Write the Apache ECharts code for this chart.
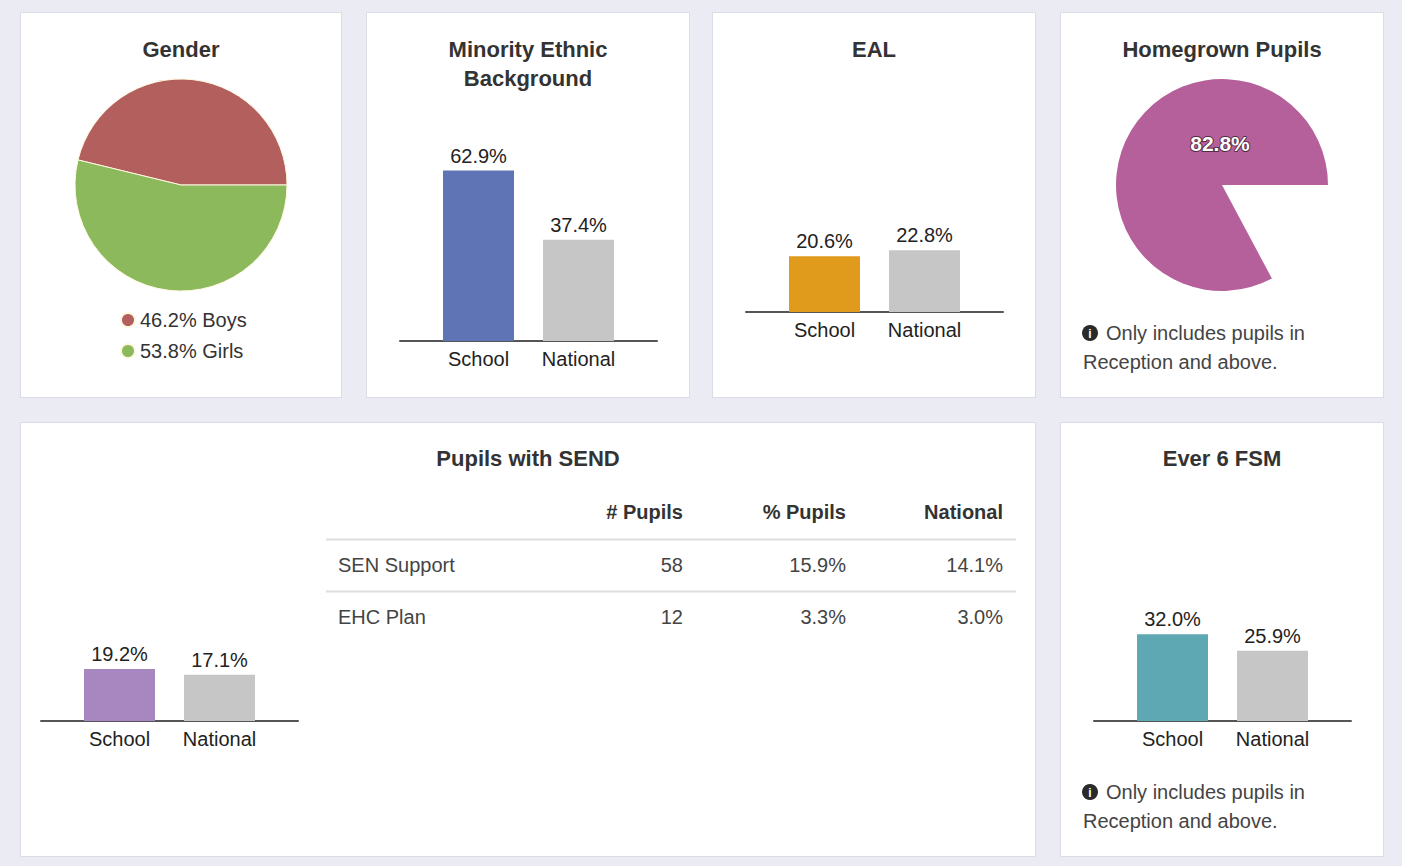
<!DOCTYPE html>
<html>
<head>
<meta charset="utf-8">
<script src="https://cdn.jsdelivr.net/npm/echarts@6/dist/echarts.min.js"></script>
<style>
  html, body { margin: 0; padding: 0; background: #ebebf3; }
  #wrap { position: relative; width: 1402px; height: 866px; }
  .card { position: absolute; background: #fff; border: 1px solid #dcdce6; box-sizing: border-box; }
  #main { position: absolute; left: 0; top: 0; width: 1402px; height: 866px; }
</style>
</head>
<body>
<div id="wrap">
  <div class="card" style="left:20px;top:12px;width:322px;height:386px"></div>
  <div class="card" style="left:366px;top:12px;width:324px;height:386px"></div>
  <div class="card" style="left:712px;top:12px;width:324px;height:386px"></div>
  <div class="card" style="left:1060px;top:12px;width:324px;height:386px"></div>
  <div class="card" style="left:20px;top:422px;width:1016px;height:435px"></div>
  <div class="card" style="left:1060px;top:422px;width:324px;height:435px"></div>
  <div id="main"></div>
</div>
<script>
const barCategories = ['School', 'National']
const minorityEthnic = [62.9, 37.4]
const eal = [20.6, 22.8]
const sendPupilsBar = [19.2, 17.1]
const ever6Fsm = [32.0, 25.9]

const genderNames = ['Boys', 'Girls']
const genderValues = [46.2, 53.8]
const homegrownValue = 82.8

const tableColumns = ['# Pupils', '% Pupils', 'National']
const sendRowNames = ['SEN Support', 'EHC Plan']
const sendCounts = [58, 12]
const sendPercent = [15.9, 3.3]
const sendNational = [14.1, 3.0]

const FONT = 'Liberation Sans'
const GREY = '#c6c6c6'

const chart = echarts.init(document.getElementById('main'), null, { renderer: 'svg' })

// bar panels: inner grid left edge and baseline y
const barPanels = [
  { data: minorityEthnic, color: '#5f74b4', left: 428.5, base: 341 },
  { data: eal, color: '#e09a1c', left: 774.5, base: 312 },
  { data: sendPupilsBar, color: '#a886c0', left: 69.5, base: 721 },
  { data: ever6Fsm, color: '#5ea8b4', left: 1122.5, base: 721 }
]
const PLOT_H = 271

const grid = []
const xAxis = []
const yAxis = []
const series = []

barPanels.forEach((p, i) => {
  const top = p.base - PLOT_H
  // wide grid only for the baseline
  grid.push({ left: p.left - 28.5, width: 257, top: top, height: PLOT_H })
  grid.push({ left: p.left, width: 200, top: top, height: PLOT_H })
  xAxis.push({
    gridIndex: 2 * i, type: 'category', data: ['', ''],
    axisLine: { lineStyle: { color: '#555', width: 2 } },
    axisTick: { show: false }, axisLabel: { show: false }, splitLine: { show: false }
  })
  xAxis.push({
    gridIndex: 2 * i + 1, type: 'category', data: barCategories,
    axisLine: { show: false }, axisTick: { show: false }, splitLine: { show: false },
    axisLabel: { fontSize: 20, color: '#222', margin: 8, fontFamily: FONT }
  })
  yAxis.push({ gridIndex: 2 * i, type: 'value', min: 0, max: 100, show: false })
  yAxis.push({ gridIndex: 2 * i + 1, type: 'value', min: 0, max: 100, show: false })
  series.push({
    type: 'bar',
    xAxisIndex: 2 * i + 1,
    yAxisIndex: 2 * i + 1,
    barWidth: 71,
    silent: true,
    data: p.data.map((v, j) => ({ value: v, itemStyle: { color: j === 0 ? p.color : GREY } })),
    label: {
      show: true, position: 'top', distance: 5,
      fontSize: 20, color: '#222', fontFamily: FONT,
      formatter: d => d.value.toFixed(1) + '%'
    }
  })
})

const genderColors = ['#b25f5e', '#8cb95b']
series.push({
  type: 'pie',
  center: [181, 185],
  radius: 106,
  startAngle: 0,
  clockwise: false,
  silent: true,
  label: { show: false },
  labelLine: { show: false },
  itemStyle: { borderColor: '#fff8e0', borderWidth: 1 },
  data: genderNames.map((n, i) => ({ name: n, value: genderValues[i], itemStyle: { color: genderColors[i] } }))
})

series.push({
  type: 'pie',
  center: [1222, 185],
  radius: 106,
  startAngle: 0,
  clockwise: false,
  silent: true,
  labelLine: { show: false },
  data: [
    {
      name: 'Homegrown', value: homegrownValue,
      itemStyle: { color: '#b6609b' },
      label: {
        show: true, position: 'center', offset: [-2, -42],
        formatter: d => d.value.toFixed(1) + '%',
        color: '#fff', fontSize: 21, fontWeight: 'bold', fontFamily: FONT,
        textBorderColor: 'rgba(40,20,30,0.7)', textBorderWidth: 2
      }
    },
    { name: 'rest', value: 100 - homegrownValue, itemStyle: { color: 'transparent' }, label: { show: false } }
  ]
})

function txt(text, x, y, opts) {
  const o = opts || {}
  return {
    type: 'text', x: x, y: y, silent: true,
    style: {
      text: text,
      fill: o.fill || '#333',
      font: (o.bold ? 'bold ' : '') + (o.size || 20) + 'px ' + FONT,
      align: o.align || 'left', textAlign: o.align || 'left',
      verticalAlign: 'middle', textVerticalAlign: 'middle'
    }
  }
}

const graphics = []
// card titles
const titleStyle = { bold: true, size: 22, align: 'center', fill: '#333' }
graphics.push(txt('Gender', 181, 49, titleStyle))
graphics.push(txt('Minority Ethnic', 528, 49, titleStyle))
graphics.push(txt('Background', 528, 78, titleStyle))
graphics.push(txt('EAL', 874, 49, titleStyle))
graphics.push(txt('Homegrown Pupils', 1222, 49, titleStyle))
graphics.push(txt('Pupils with SEND', 528, 458, titleStyle))
graphics.push(txt('Ever 6 FSM', 1222, 458, titleStyle))

// SEND table
const colRight = [683, 846, 1003]
tableColumns.forEach((c, i) => graphics.push(txt(c, colRight[i], 512, { bold: true, align: 'right', fill: '#333' })))
const rowY = [565, 617]
sendRowNames.forEach((name, r) => {
  graphics.push({ type: 'line', silent: true, shape: { x1: 326, y1: rowY[r] - 25.5, x2: 1016, y2: rowY[r] - 25.5 }, style: { stroke: '#dedede', lineWidth: 2 } })
  graphics.push(txt(name, 338, rowY[r], { fill: '#444' }))
  graphics.push(txt(String(sendCounts[r]), colRight[0], rowY[r], { align: 'right', fill: '#444' }))
  graphics.push(txt(sendPercent[r].toFixed(1) + '%', colRight[1], rowY[r], { align: 'right', fill: '#444' }))
  graphics.push(txt(sendNational[r].toFixed(1) + '%', colRight[2], rowY[r], { align: 'right', fill: '#444' }))
})

// info notes
function note(y) {
  graphics.push({ type: 'circle', silent: true, shape: { cx: 1090, cy: y, r: 8 }, style: { fill: '#2a2a2a' } })
  graphics.push(txt('i', 1090, y + 1, { bold: true, size: 12, align: 'center', fill: '#fff' }))
  graphics.push(txt('Only includes pupils in', 1106, y, { fill: '#444' }))
  graphics.push(txt('Reception and above.', 1083, y + 29, { fill: '#444' }))
}
note(333)
note(792)

chart.setOption({
  animation: false,
  textStyle: { fontFamily: FONT },
  legend: {
    data: genderNames,
    orient: 'vertical',
    left: 115,
    top: 305,
    icon: 'circle',
    itemWidth: 14,
    itemHeight: 14,
    itemGap: 11,
    selectedMode: false,
    textStyle: { fontSize: 20, color: '#333', fontFamily: FONT },
    formatter: name => genderValues[genderNames.indexOf(name)].toFixed(1) + '% ' + name
  },
  grid: grid,
  xAxis: xAxis,
  yAxis: yAxis,
  series: series,
  graphic: { elements: graphics }
})
</script>
</body>
</html>
